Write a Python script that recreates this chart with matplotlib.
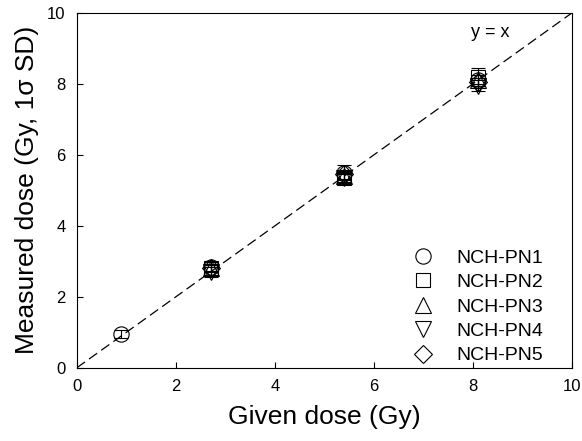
import matplotlib
matplotlib.use("Agg")
import matplotlib.pyplot as plt

plt.rcParams['font.family'] = ['Liberation Sans', 'DejaVu Sans']

# data per sample: given dose, measured dose, 1 sigma SD
pn1_x = [0.9, 2.7, 5.4, 8.1]
pn1_y = [0.95, 2.85, 5.5, 8.1]
pn1_e = [0.12, 0.12, 0.2, 0.15]

pn2_x = [2.7, 5.4, 8.1]
pn2_y = [2.8, 5.35, 8.2]
pn2_e = [0.1, 0.15, 0.25]

pn3_x = [2.7, 5.4, 8.1]
pn3_y = [2.8, 5.4, 8.1]
pn3_e = [0.1, 0.12, 0.15]

pn4_x = [2.7, 5.4, 8.1]
pn4_y = [2.7, 5.35, 7.95]
pn4_e = [0.15, 0.12, 0.15]

pn5_x = [2.7, 5.4, 8.1]
pn5_y = [2.8, 5.45, 8.05]
pn5_e = [0.1, 0.12, 0.12]

labels = ["NCH-PN1", "NCH-PN2", "NCH-PN3", "NCH-PN4", "NCH-PN5"]
markers = ["o", "s", "^", "v", "D"]
sizes = [11, 10, 12, 12, 9]

fig = plt.figure(figsize=(5.82, 4.41), dpi=100)
ax = fig.add_axes([0.132, 0.166, 0.851, 0.805])

ax.plot([0, 10], [0, 10], color="black", lw=0.9, dashes=(8, 4))
ax.text(8.35, 9.45, "y = x", fontsize=13, ha="center", va="center")

series = [(pn1_x, pn1_y, pn1_e), (pn2_x, pn2_y, pn2_e), (pn3_x, pn3_y, pn3_e),
          (pn4_x, pn4_y, pn4_e), (pn5_x, pn5_y, pn5_e)]
for (x, y, e), lab, m, s in zip(series, labels, markers, sizes):
    ax.errorbar(x, y, yerr=e, fmt=m, ms=s, mfc="none", mec="black", mew=0.8,
                ecolor="black", elinewidth=0.8, capsize=5, capthick=0.8, label=lab)

ax.set_xlim(0, 10)
ax.set_ylim(0, 10)
ax.set_xticks([0, 2, 4, 6, 8, 10])
ax.set_yticks([0, 2, 4, 6, 8, 10])
ax.tick_params(direction="in", length=4, labelsize=12, pad=8)
ax.set_xlabel("Given dose (Gy)", fontsize=19, labelpad=8)
ax.set_ylabel("Measured dose (Gy, 1σ SD)", fontsize=19, labelpad=6)

handles, labs = ax.get_legend_handles_labels()
handles = [h[0] for h in handles]
ax.legend(handles, labs, loc="lower right", frameon=False, fontsize=14,
          handletextpad=0.9, labelspacing=0.35, handlelength=1.6,
          bbox_to_anchor=(0.977, -0.04))

fig.savefig("out.png", dpi=100)
